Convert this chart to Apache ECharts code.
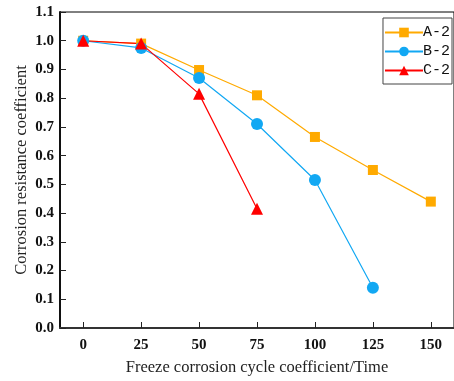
<!DOCTYPE html>
<html>
<head>
<meta charset="utf-8">
<script src="https://cdn.jsdelivr.net/npm/echarts@6/dist/echarts.min.js"></script>
<style>
  html, body { margin: 0; padding: 0; background: #fff; }
  #chart { width: 454px; height: 381px; }
</style>
</head>
<body>
<div id="chart"></div>
<script>
// cycles (x) and coefficients
const xTicks = [0, 25, 50, 75, 100, 125, 150];
const cyclesA = [0, 25, 50, 75, 100, 125, 150];
const valuesA = [1.0, 0.99, 0.898, 0.81, 0.665, 0.55, 0.44];
const cyclesB = [0, 25, 50, 75, 100, 125];
const valuesB = [1.0, 0.975, 0.87, 0.71, 0.515, 0.14];
const cyclesC = [0, 25, 50, 75];
const valuesC = [1.0, 0.99, 0.815, 0.415];
const seriesNames = ['A-2', 'B-2', 'C-2'];

const serif = '"Liberation Serif", "DejaVu Serif", serif';
const pairs = (xs, ys) => xs.map((x, i) => [x, ys[i]]);

const chart = echarts.init(document.getElementById('chart'));
chart.setOption({
  backgroundColor: '#fff',
  animation: false,
  grid: {
    left: 60, top: 12, right: -4, bottom: 47,
    show: true, borderColor: '#000', borderWidth: 1
  },
  legend: {
    right: 2, top: 18,
    orient: 'vertical',
    itemGap: 4,
    itemWidth: 38,
    itemHeight: 12,
    padding: [7, 2, 6, 1],
    borderColor: '#444',
    borderWidth: 1,
    textStyle: {
      fontFamily: '"Liberation Mono", monospace', fontSize: 15, color: '#111',
      padding: [0, 0, 0, -5], lineHeight: 14
    },
    data: seriesNames
  },
  xAxis: {
    type: 'value',
    min: -10, max: 160,
    name: 'Freeze corrosion cycle coefficient/Time',
    nameLocation: 'middle',
    nameGap: 31,
    nameMoveOverlap: false,
    nameTextStyle: { fontFamily: serif, fontSize: 16.5, color: '#222' },
    axisLine: { onZero: false, lineStyle: { color: '#333', width: 2 } },
    axisTick: { inside: true, length: 6, customValues: xTicks, lineStyle: { color: '#222', width: 1 } },
    axisLabel: {
      fontFamily: serif, fontSize: 15, fontWeight: 'bold', color: '#111', margin: 10,
      customValues: xTicks
    },
    splitLine: { show: false }
  },
  yAxis: {
    type: 'value',
    min: 0, max: 1.1, interval: 0.1,
    name: 'Corrosion resistance coefficient',
    nameLocation: 'middle',
    nameGap: 30,
    nameMoveOverlap: false,
    nameTextStyle: { fontFamily: serif, fontSize: 16.5, color: '#222' },
    axisLine: { onZero: false, lineStyle: { color: '#111', width: 2 } },
    axisTick: { inside: true, length: 6, lineStyle: { color: '#222', width: 1 } },
    axisLabel: {
      fontFamily: serif, fontSize: 15, fontWeight: 'bold', color: '#111', margin: 6,
      formatter: v => v.toFixed(1)
    },
    splitLine: { show: false }
  },
  series: [
    {
      name: 'A-2', type: 'line',
      data: pairs(cyclesA, valuesA),
      symbol: 'rect', symbolSize: 10,
      itemStyle: { color: '#FFAA00' },
      lineStyle: { width: 1.2, color: '#FFAA00' }
    },
    {
      name: 'B-2', type: 'line',
      data: pairs(cyclesB, valuesB),
      symbol: 'circle', symbolSize: 12,
      itemStyle: { color: '#12A8F3' },
      lineStyle: { width: 1.2, color: '#12A8F3' }
    },
    {
      name: 'C-2', type: 'line',
      data: pairs(cyclesC, valuesC),
      symbol: 'triangle', symbolSize: 12,
      itemStyle: { color: '#FF0000' },
      lineStyle: { width: 1.2, color: '#FF0000' }
    }
  ]
});
</script>
</body>
</html>
